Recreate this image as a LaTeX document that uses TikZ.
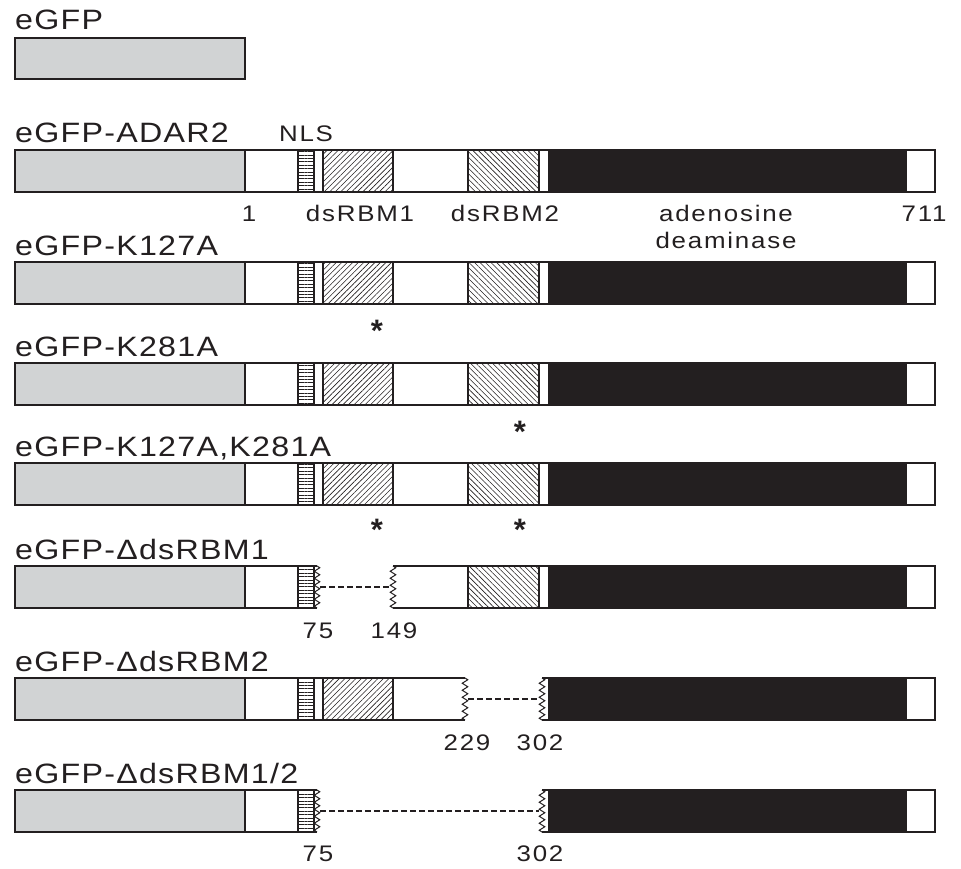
\documentclass[tikz,border=0pt]{standalone}
\usepackage{fontspec}
\setmainfont{Liberation Sans}
\newfontfamily\namefont[FakeStretch=1.15,LetterSpace=4.5]{Liberation Sans}
\newfontfamily\tagfont[FakeStretch=1.15,LetterSpace=8]{Liberation Sans}
\usetikzlibrary{patterns.meta,decorations.pathmorphing}
\definecolor{ink}{HTML}{231F20}
\definecolor{gfpgray}{HTML}{D1D3D4}

% one bar segment: style, name, left x, right x, top y
\newcommand\seg[5]{\node[#1, minimum width={#4-#3}] (#2) at (#3,#5) {};}
% complete construct: eGFP, linker, NLS, dsRBM1, dsRBM2, deaminase
\newcommand\fullrow[2]{%
  \seg{gfp}{#1gfp}{15}{245}{#2}
  \seg{blank}{#1lnk}{245}{298}{#2}
  \seg{nls}{#1nls}{298}{314}{#2}
  \seg{blank}{#1gap}{314}{323}{#2}
  \seg{rbmone}{#1rbma}{323}{393}{#2}
  \seg{blank}{#1mid}{393}{468}{#2}
  \seg{rbmtwo}{#1rbmb}{468}{539}{#2}
  \seg{blank}{#1pre}{539}{549}{#2}
  \seg{deam}{#1dea}{549}{906}{#2}
  \seg{blank}{#1end}{906}{935}{#2}}

\begin{document}
\begin{tikzpicture}[x=1pt,y=-1pt,
  seg/.style={rectangle, draw=ink, line width=1.2pt, inner sep=0pt, outer sep=0pt,
    minimum height=42pt, anchor=north west},
  gfp/.style={seg, fill=gfpgray},
  blank/.style={seg, fill=white},
  nls/.style={seg, pattern={Lines[angle=0,distance=3.4pt,line width=0.6pt]}, pattern color=ink},
  rbmone/.style={seg, pattern={Lines[angle=45,distance=3.9pt,line width=0.6pt]}, pattern color=ink},
  rbmtwo/.style={seg, pattern={Lines[angle=-45,distance=3.9pt,line width=0.6pt]}, pattern color=ink},
  deam/.style={seg, fill=ink},
  edge/.style={draw=ink, line width=1.2pt},
  zig/.style={draw=ink, line width=1pt, decorate,
    decoration={zigzag, segment length=7pt, amplitude=2.8pt}},
  gapline/.style={draw=ink, line width=2.2pt, dash pattern=on 6pt off 3pt},
  rowlabel/.style={anchor=base west, inner sep=0pt, text=ink,
    font=\namefont\fontsize{28}{32}\selectfont},
  smalltext/.style={anchor=base, inner sep=0pt, text=ink,
    font=\tagfont\fontsize{22.5}{26}\selectfont},
  mutation/.style={anchor=base, inner sep=0pt, text=ink,
    font=\fontsize{31}{32}\selectfont\bfseries}]
\useasboundingbox (0,0) rectangle (961,869);

% eGFP alone
\node[gfp, minimum width=230, minimum height=41pt] (solo) at (15,38) {};
\node[rowlabel] (lsolo) at (15,30) {eGFP};

% wild-type ADAR2 fusion with domain annotations
\fullrow{wt}{150}
\node[rowlabel] (lwt) at (15,143) {eGFP-ADAR2};
\node[smalltext] (tnls) at (306,142) {NLS};
\node[smalltext] (tone) at (249,222) {1};
\node[smalltext] (trbma) at (360,222) {dsRBM1};
\node[smalltext] (trbmb) at (505,222) {dsRBM2};
\node[smalltext] (tdea) at (726,222) {adenosine};
\node[smalltext] (tdeb) at (726,248) {deaminase};
\node[smalltext] (tend) at (924,222) {711};

% point mutants
\fullrow{ka}{262}
\node[rowlabel] (lka) at (15,255) {eGFP-K127A};
\node[mutation] (ska) at (377,341) {*};

\fullrow{kb}{363}
\node[rowlabel] (lkb) at (15,356) {eGFP-K281A};
\node[mutation] (skb) at (520,442) {*};

\fullrow{kab}{463}
\node[rowlabel] (lkab) at (15,456) {eGFP-K127A,K281A};
\node[mutation] (skaba) at (377,540) {*};
\node[mutation] (skabb) at (520,540) {*};

% deletion of dsRBM1
\seg{gfp}{ragfp}{15}{245}{566}
\seg{blank}{ralnk}{245}{298}{566}
\seg{nls}{ranls}{298}{314}{566}
\seg{rbmtwo}{rarbmb}{468}{539}{566}
\seg{blank}{rapre}{539}{549}{566}
\seg{deam}{radea}{549}{906}{566}
\seg{blank}{raend}{906}{935}{566}
\coordinate (razat) at (317,566); \coordinate (razab) at (317,608);
\coordinate (razbt) at (393,566); \coordinate (razbb) at (393,608);
\draw[edge] (ranls.north east) -- (razat);
\draw[edge] (ranls.south east) -- (razab);
\draw[zig] (razat) -- (razab);
\draw[zig] (razbt) -- (razbb);
\draw[edge] (razbt) -- (rarbmb.north west);
\draw[edge] (razbb) -- (rarbmb.south west);
\coordinate (raca) at (320,587); \coordinate (racb) at (390,587);
\draw[gapline] (raca) -- (racb);
\node[rowlabel] (lra) at (15,559) {eGFP-ΔdsRBM1};
\node[smalltext] (tra) at (318,638) {75};
\node[smalltext] (trb) at (394,638) {149};

% deletion of dsRBM2
\seg{gfp}{rbgfp}{15}{245}{678}
\seg{blank}{rblnk}{245}{298}{678}
\seg{nls}{rbnls}{298}{314}{678}
\seg{blank}{rbgap}{314}{323}{678}
\seg{rbmone}{rbrbma}{323}{393}{678}
\seg{deam}{rbdea}{549}{906}{678}
\seg{blank}{rbend}{906}{935}{678}
\coordinate (rbzat) at (465,678); \coordinate (rbzab) at (465,720);
\coordinate (rbzbt) at (542,678); \coordinate (rbzbb) at (542,720);
\draw[edge] (rbrbma.north east) -- (rbzat);
\draw[edge] (rbrbma.south east) -- (rbzab);
\draw[zig] (rbzat) -- (rbzab);
\draw[zig] (rbzbt) -- (rbzbb);
\draw[edge] (rbzbt) -- (rbdea.north west);
\draw[edge] (rbzbb) -- (rbdea.south west);
\coordinate (rbca) at (468,699); \coordinate (rbcb) at (539,699);
\draw[gapline] (rbca) -- (rbcb);
\node[rowlabel] (lrb) at (15,671) {eGFP-ΔdsRBM2};
\node[smalltext] (trc) at (467,750) {229};
\node[smalltext] (trd) at (540,750) {302};

% deletion of both dsRBMs
\seg{gfp}{rcgfp}{15}{245}{790}
\seg{blank}{rclnk}{245}{298}{790}
\seg{nls}{rcnls}{298}{314}{790}
\seg{deam}{rcdea}{549}{906}{790}
\seg{blank}{rcend}{906}{935}{790}
\coordinate (rczat) at (317,790); \coordinate (rczab) at (317,832);
\coordinate (rczbt) at (542,790); \coordinate (rczbb) at (542,832);
\draw[edge] (rcnls.north east) -- (rczat);
\draw[edge] (rcnls.south east) -- (rczab);
\draw[zig] (rczat) -- (rczab);
\draw[zig] (rczbt) -- (rczbb);
\draw[edge] (rczbt) -- (rcdea.north west);
\draw[edge] (rczbb) -- (rcdea.south west);
\coordinate (rcca) at (320,811); \coordinate (rccb) at (539,811);
\draw[gapline] (rcca) -- (rccb);
\node[rowlabel] (lrc) at (15,783) {eGFP-ΔdsRBM1/2};
\node[smalltext] (tre) at (318,861) {75};
\node[smalltext] (trf) at (540,861) {302};
\end{tikzpicture}
\end{document}
